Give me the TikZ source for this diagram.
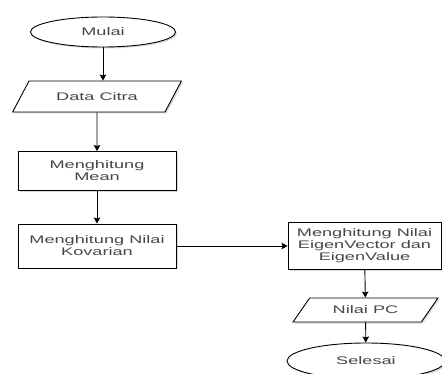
\documentclass[tikz,border=0pt]{standalone}
\usepackage{fontspec}
\newfontfamily\flowfont[FakeStretch=1.65]{Liberation Sans}
\usetikzlibrary{shapes.geometric,arrows.meta,shadows}

\begin{document}
\begin{tikzpicture}[x=1pt,y=-1pt]
        \useasboundingbox (0,0) rectangle (442,374);
        \clip (0,0) rectangle (442,374);
        \begin{scope}[every node/.style={draw, line width=0.9pt, fill=white, align=center, inner sep=1, text=black!72, font=\flowfont\fontsize{11}{12}\selectfont, drop shadow={shadow xshift=1.5pt, shadow yshift=-1.5pt, opacity=0.3}}]
            \node [ellipse, minimum width=145, minimum height=30] (mulai) at (103,32) {Mulai};
            \node [trapezium, trapezium left angle=45, trapezium right angle=135, trapezium stretches=true, minimum width=169, minimum height=31] (data) at (97,96.5) {Data Citra};
            \node [rectangle, minimum width=158, minimum height=39] (mean) at (97,171) {Menghitung\\Mean};
            \node [rectangle, minimum width=158, minimum height=44] (kov) at (97,246) {Menghitung Nilai\\Kovarian};
            \node [rectangle, minimum width=153, minimum height=47] (eigen) at (364.5,246) {Menghitung Nilai\\EigenVector dan\\EigenValue};
            \node [trapezium, trapezium left angle=45, trapezium right angle=135, trapezium stretches=true, minimum width=145, minimum height=24] (pc) at (365.5,310) {Nilai PC};
            \node [ellipse, minimum width=158, minimum height=36] (selesai) at (366,361) {Selesai};
        \end{scope}
        \begin{scope}[every path/.style={line width=0.9pt, -{Stealth[length=6, width=6.5, inset=1]}}]
            \path (mulai.south) edge (mulai.south |- data.north);
            \path (data) edge (mean);
            \path (mean) edge (kov);
            \path (kov) edge (eigen);
            \path (eigen) edge (pc);
            \path (pc) edge (selesai);
        \end{scope}
    \end{tikzpicture}
\end{document}
